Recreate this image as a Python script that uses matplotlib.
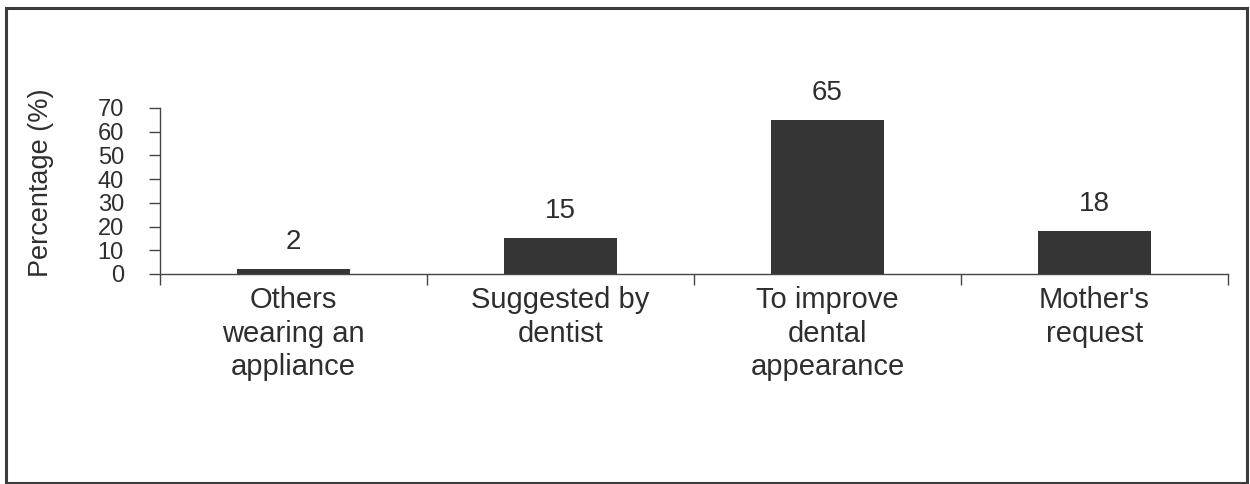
import numpy as np
import matplotlib
matplotlib.use("Agg")
import matplotlib.pyplot as plt
from matplotlib.patches import Rectangle

# Reasons for seeking orthodontic treatment
categories = ["Others\nwearing an\nappliance", "Suggested by\ndentist",
              "To improve\ndental\nappearance", "Mother's\nrequest"]
values = [2, 15, 65, 18]
yticks = [0, 10, 20, 30, 40, 50, 60, 70]

plt.rcParams['font.family'] = ['Liberation Sans', 'DejaVu Sans']
txt = '#2e2e2e'

fig = plt.figure(figsize=(12.5, 4.84), dpi=100)
ax = fig.add_axes([0.128, 0.4339, 0.8544, 0.343])

x = np.arange(len(categories))
ax.bar(x, values, width=0.42, color='#353535', zorder=2)

# value labels above bars
for xi, v in zip(x, values):
    ax.annotate(str(v), (xi, v), xytext=(0, 14.5), textcoords='offset points',
                ha='center', va='baseline', fontsize=20, color=txt)

ax.set_xlim(-0.5, len(categories) - 0.5)
ax.set_ylim(0, 70)
ax.set_yticks(yticks)
ax.set_yticklabels([str(t) for t in yticks], fontsize=17, color=txt)
ax.tick_params(axis='y', direction='out', length=8, width=1, pad=18, color='#444444')

# boundaries as major ticks, category names as minor ticks
ax.set_xticks(np.arange(-0.5, len(categories)))
ax.set_xticklabels([])
ax.set_xticks(x, minor=True)
ax.set_xticklabels(categories, minor=True, fontsize=21, color=txt, linespacing=1.25)
ax.tick_params(axis='x', which='major', direction='out', length=8, width=1, color='#444444')
ax.tick_params(axis='x', which='minor', length=0, pad=9)

for s in ['top', 'right']:
    ax.spines[s].set_visible(False)
for s in ['left', 'bottom']:
    ax.spines[s].set_color('#444444')
    ax.spines[s].set_linewidth(1)

fig.text(41 / 1250, 1 - 183 / 484, 'Percentage (%)', rotation=90,
         ha='center', va='center', fontsize=19.5, color=txt)

# outer frame
fig.patches.append(Rectangle((6 / 1250, 1 / 484), 1241 / 1250, 475 / 484,
                             transform=fig.transFigure, fill=False,
                             edgecolor='#3c3c3c', linewidth=2.2))

fig.savefig('out.png', dpi=100)
